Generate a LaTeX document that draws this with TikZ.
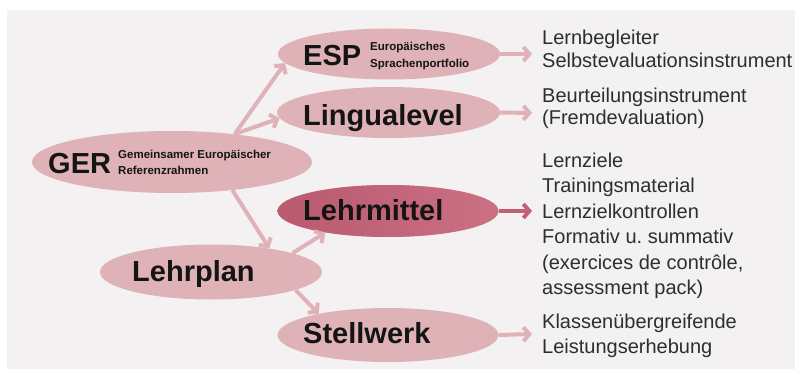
\documentclass[tikz,border=0pt]{standalone}
\usepackage{fontspec}
\setmainfont{Liberation Sans}
\usetikzlibrary{arrows.meta,shapes.geometric}
\definecolor{bg}{HTML}{F3F1F1}
\definecolor{ellfill}{HTML}{DEB2B7}
\definecolor{ellhotL}{HTML}{B95A6F}
\definecolor{ellhotR}{HTML}{CC7084}
\definecolor{arrcol}{HTML}{E0B2B8}
\definecolor{arrhot}{HTML}{C45F78}
\definecolor{txt}{HTML}{2E2E2E}
\definecolor{lab}{HTML}{141414}
\begin{document}
\frenchspacing
\begin{tikzpicture}[x=1pt,y=-1pt,
  ell/.style={ellipse, draw=none, inner sep=0pt, fill=ellfill},
  big/.style={font=\fontsize{29}{33}\selectfont\bfseries, text=lab, inner sep=0pt, anchor=base west},
  tinylab/.style={font=\fontsize{11.5}{14}\selectfont\bfseries, text=lab, inner sep=0pt, anchor=base west},
  arr/.style={draw=arrcol, line width=4pt, -{Straight Barb[length=6pt,width=14pt]}},
  rt/.style={anchor=base west, inner sep=0pt, text=txt, font=\fontsize{20}{22.5}\selectfont}]
\useasboundingbox (0,0) rectangle (795,369);
\fill[bg] (7,10) rectangle (795,369);
% ellipses
\node[ell, minimum width=222pt, minimum height=51pt] (esp) at (389,54) {};
\node[ell, minimum width=223pt, minimum height=51pt] (lingua) at (388.5,112.5) {};
\node[ell, minimum width=280pt, minimum height=62pt] (ger) at (172,162) {};
\node[ell, left color=ellhotL, right color=ellhotR, minimum width=221pt, minimum height=52pt] (lehrmittel) at (388,211) {};
\node[ell, minimum width=222pt, minimum height=55pt] (lehrplan) at (211,272) {};
\node[ell, minimum width=221pt, minimum height=54pt] (stellwerk) at (388,335) {};
% labels
\node[big] (esplab) at (303,66) {ESP};
\node[tinylab] (espsub1) at (370,51) {Europäisches};
\node[tinylab] (espsub2) at (370,67) {Sprachenportfolio};
\node[big] (lingualab) at (303,125) {Lingualevel};
\node[big] (gerlab) at (48,173) {GER};
\node[tinylab] (gersub1) at (118,158) {Gemeinsamer Europäischer};
\node[tinylab] (gersub2) at (118,174) {Referenzrahmen};
\node[big] (lehrmittellab) at (303,220) {Lehrmittel};
\node[big] (lehrplanlab) at (132,281) {Lehrplan};
\node[big] (stellwerklab) at (303,343) {Stellwerk};
% connectors between ellipses
\draw[arr] (ger.24) -- (esp.185);
\draw[arr] (ger.24) -- (lingua.183);
\draw[arr] (ger.-25) -- (lehrplan.22);
\draw[arr] (lehrplan.13) -- (lehrmittel.199);
\draw[arr] (lehrplan.-12) -- (stellwerk.163);
% right arrows
\coordinate (t1) at (532,54);
\coordinate (t2) at (532,113);
\coordinate (t3) at (532,211);
\coordinate (t4) at (532,334);
\draw[arr] (esp.east) -- (t1);
\draw[arr] (lingua.east) -- (t2);
\draw[arr, draw=arrhot] (lehrmittel.east) -- (t3);
\draw[arr] (stellwerk.east) -- (t4);
% right texts
\node[rt] (r1) at (542,45) {\begin{tabular}[t]{@{}l@{}}Lernbegleiter\\Selbstevaluationsinstrument\end{tabular}};
\node[rt, font=\fontsize{20}{23}\selectfont] (r2) at (542,102) {\begin{tabular}[t]{@{}l@{}}Beurteilungsinstrument\\(Fremdevaluation)\end{tabular}};
\node[rt, font=\fontsize{20}{25.5}\selectfont] (r3) at (542,167) {\begin{tabular}[t]{@{}l@{}}Lernziele\\Trainingsmaterial\\Lernzielkontrollen\\Formativ u. summativ\\(exercices de contrôle,\\assessment pack)\end{tabular}};
\node[rt, font=\fontsize{20}{25}\selectfont] (r4) at (542,328) {\begin{tabular}[t]{@{}l@{}}Klassenübergreifende\\Leistungserhebung\end{tabular}};
\end{tikzpicture}
\end{document}
